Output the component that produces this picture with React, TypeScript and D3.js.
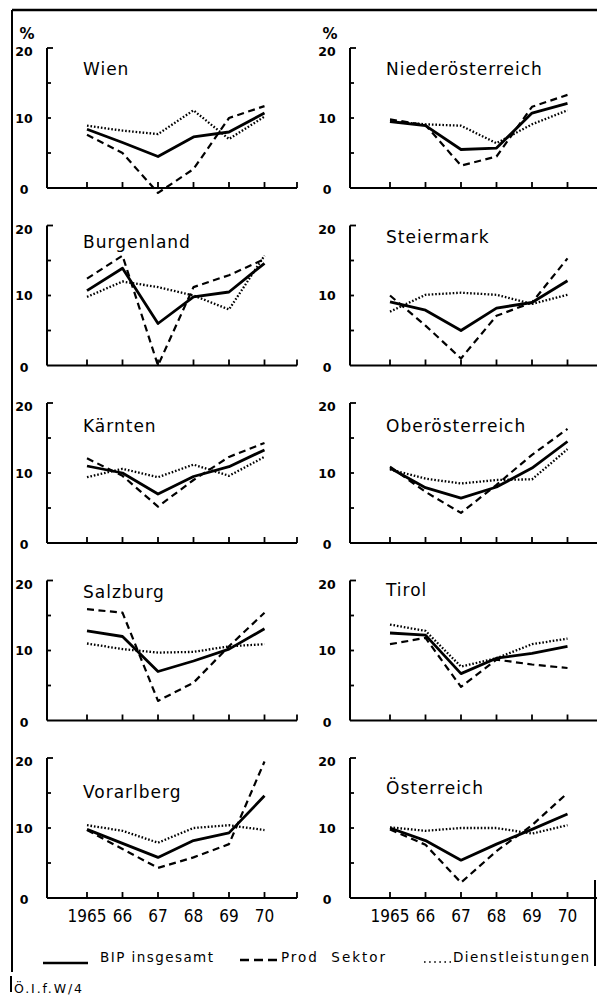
import { scaleLinear, scalePoint, line } from "d3"

const years = ["1965", "66", "67", "68", "69", "70"]
const regions = ["Wien", "Niederösterreich", "Burgenland", "Steiermark", "Kärnten", "Oberösterreich", "Salzburg", "Tirol", "Vorarlberg", "Österreich"]
const yTicks = [0, 10, 20]

// BIP insgesamt, one row per region
const bipInsgesamt = [
    [8.4, 6.5, 4.5, 7.3, 8.0, 10.7],
    [9.5, 8.9, 5.5, 5.7, 10.7, 12.1],
    [10.7, 13.9, 6.0, 9.8, 10.5, 14.6],
    [9.1, 7.9, 5.0, 8.2, 9.0, 12.1],
    [11.0, 10.0, 7.0, 9.5, 10.9, 13.3],
    [10.7, 7.9, 6.4, 8.0, 10.7, 14.5],
    [12.8, 12.0, 7.0, 8.5, 10.2, 13.1],
    [12.5, 12.2, 6.7, 8.9, 9.6, 10.6],
    [9.8, 7.8, 5.8, 8.2, 9.3, 14.6],
    [10.0, 8.2, 5.4, 7.7, 9.8, 12.0],
]
// Prod. Sektor
const prodSektor = [
    [7.6, 5.0, -0.7, 2.7, 10.0, 11.7],
    [9.8, 9.0, 3.2, 4.5, 11.6, 13.3],
    [12.4, 15.7, 0.0, 11.2, 12.9, 15.2],
    [10.0, 5.7, 1.0, 7.1, 9.0, 15.3],
    [12.1, 9.6, 5.2, 9.0, 12.3, 14.3],
    [10.9, 7.3, 4.3, 8.3, 12.6, 16.3],
    [15.9, 15.4, 2.8, 5.4, 10.6, 15.4],
    [10.9, 11.8, 4.8, 8.7, 8.0, 7.5],
    [9.7, 7.0, 4.3, 5.8, 7.7, 19.5],
    [9.8, 7.6, 2.2, 6.7, 10.4, 15.0],
]
// Dienstleistungen
const dienstleistungen = [
    [8.9, 8.2, 7.7, 11.1, 7.0, 10.2],
    [9.5, 9.1, 8.9, 6.4, 9.1, 11.1],
    [9.8, 12.0, 11.2, 10.0, 8.0, 15.7],
    [7.7, 10.1, 10.4, 10.1, 8.8, 10.1],
    [9.4, 10.6, 9.4, 11.2, 9.6, 12.3],
    [10.5, 9.2, 8.5, 9.0, 9.1, 13.4],
    [11.0, 10.2, 9.7, 9.8, 10.6, 10.9],
    [13.7, 12.8, 7.7, 8.9, 10.9, 11.7],
    [10.4, 9.6, 7.9, 10.0, 10.4, 9.7],
    [10.1, 9.6, 10.0, 10.0, 9.2, 10.4],
]

const WIDTH = 597
const HEIGHT = 999
const COL_X = [47, 350]
const ROW_ZERO = [188, 365.5, 543, 720.5, 898]
const TITLE_DY = [-113, -113, -118, -123, -111, -111, -123, -125, -100, -104]
const AXIS_LEN = 250
const FONT_TITLE = "'DejaVu Sans', sans-serif"
const FONT_NARROW = "'Liberation Sans Narrow', 'DejaVu Sans Condensed', sans-serif"

const series = [
    { name: "BIP insgesamt", values: bipInsgesamt, width: 2.8, dash: undefined },
    { name: "Prod  Sektor", values: prodSektor, width: 2.2, dash: "7 4.5" },
    { name: "Dienstleistungen", values: dienstleistungen, width: 2.3, dash: "1.6 1.9" },
]

function Panel({ idx }: { idx: number }) {
    const ox = COL_X[idx % 2]
    const oy = ROW_ZERO[Math.floor(idx / 2)]
    const xScale = scalePoint<string>().domain(years).range([40, 217.5])
    const yScale = scaleLinear().domain([0, 20]).range([0, -140])
    const path = line<number>()
        .x((_, i) => xScale(years[i]) as number)
        .y((d) => yScale(d))
    const bottom = idx >= 8

    return (
        <g transform={`translate(${ox},${oy})`}>
            {/* y axis */}
            <line x1={0} x2={0} y1={0} y2={yScale(20)} stroke="#000" strokeWidth={2} />
            {[5, 10, 15, 20].map((v) => (
                <line key={v} x1={0} x2={v === 20 ? 6 : 4} y1={yScale(v)} y2={yScale(v)} stroke="#000" strokeWidth={1.8} />
            ))}
            {yTicks.map((v) => (
                <text
                    key={v}
                    x={-23}
                    y={yScale(v) + (v === 20 ? 8 : v === 0 ? 6 : 4.5)}
                    textAnchor="middle"
                    fontFamily={FONT_TITLE}
                    fontWeight="bold"
                    fontSize={12.5}
                    fill="#000"
                >
                    {v}
                </text>
            ))}
            {idx < 2 && (
                <text x={-20} y={yScale(20) - 9} textAnchor="middle" fontFamily={FONT_TITLE} fontWeight="bold" fontSize={15}>
                    %
                </text>
            )}
            {/* x axis */}
            <line x1={0} x2={AXIS_LEN} y1={0} y2={0} stroke="#000" strokeWidth={2} />
            {years.map((y) => (
                <line key={y} x1={xScale(y)} x2={xScale(y)} y1={0} y2={-6} stroke="#000" strokeWidth={1.8} />
            ))}
            <line x1={AXIS_LEN} x2={AXIS_LEN} y1={0} y2={-6} stroke="#000" strokeWidth={1.8} />
            {bottom &&
                years.map((y) => (
                    <text key={y} x={xScale(y)} y={24} textAnchor="middle" fontFamily={FONT_NARROW} fontSize={17} fill="#000">
                        {y}
                    </text>
                ))}
            <text x={36} y={TITLE_DY[idx]} fontFamily={FONT_TITLE} fontSize={17} letterSpacing={1} fill="#000">
                {regions[idx]}
            </text>
            {series.map((s) => (
                <path
                    key={s.name}
                    d={path(s.values[idx]) || ""}
                    fill="none"
                    stroke="#000"
                    strokeWidth={s.width}
                    strokeDasharray={s.dash}
                    strokeLinejoin="round"
                />
            ))}
        </g>
    )
}

export default function App() {
    return (
        <svg
            width={WIDTH}
            height={HEIGHT}
            viewBox={`0 0 ${WIDTH} ${HEIGHT}`}
            style={{ position: "absolute", left: 0, top: 0, background: "#fff" }}
        >
            <rect x={0} y={0} width={WIDTH} height={HEIGHT} fill="#fff" />
            {/* frame */}
            <line x1={12} x2={WIDTH} y1={10} y2={10} stroke="#000" strokeWidth={2.5} />
            <line x1={12} x2={12} y1={10} y2={972} stroke="#000" strokeWidth={2} />
            <line x1={11} x2={11} y1={976} y2={992} stroke="#000" strokeWidth={2} />
            <line x1={595} x2={595} y1={880} y2={966} stroke="#000" strokeWidth={2} />

            {regions.map((r, i) => (
                <Panel key={r} idx={i} />
            ))}

            {/* legend */}
            <g fontFamily={FONT_TITLE} fontSize={13.5} fill="#000">
                <line x1={43} x2={88} y1={963} y2={963} stroke="#000" strokeWidth={2.6} />
                <text x={100} y={962} textLength={113} lengthAdjust="spacing">{series[0].name}</text>
                <line x1={240} x2={278} y1={960} y2={960} stroke="#000" strokeWidth={2.4} strokeDasharray="9 5" />
                <text x={281} y={962} textLength={104} lengthAdjust="spacing" style={{ whiteSpace: "pre" }}>{series[1].name}</text>
                <line x1={424} x2={451} y1={962} y2={962} stroke="#000" strokeWidth={1.6} strokeDasharray="1.6 3.5" />
                <text x={453} y={962} textLength={136} lengthAdjust="spacing">{series[2].name}</text>
            </g>
            <text x={14} y={993} fontFamily={FONT_TITLE} fontSize={12.5} textLength={68} lengthAdjust="spacing">
                Ö.I.f.W/4
            </text>
        </svg>
    )
}
